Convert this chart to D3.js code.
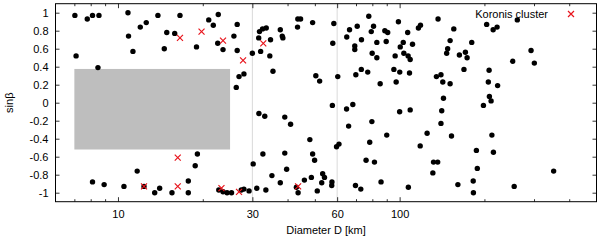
<!DOCTYPE html>
<html><head><meta charset="utf-8">
<script src="https://cdn.jsdelivr.net/npm/d3@7"></script>
<style>body{margin:0;background:#fff}svg{display:block}text{font-family:"Liberation Sans",Arial,sans-serif}</style>
</head><body><svg id="c" width="600" height="240"></svg>
<script>
// Asteroid diameters (km) and sin(beta) of pole latitude
const asteroidDiameter = [
  7.03, 7.78, 8.12, 8.56, 10.85, 13.86, 16.6, 21.0, 22.7, 21.8, 26.5, 12.6, 12.0, 10.9, 14.9, 15.9, 25.8, 7.10, 11.3, 14.6, 19.0, 22.6, 23.6, 26.5, 8.49, 26.9, 28.0, 26.3,
  30.0, 32.1, 31.6, 31.8, 32.6, 33.6, 34.8, 34.6, 35.5, 37.7, 38.3, 38.5, 43.5, 44.5, 43.4, 49.1, 58.4, 57.9, 50.4, 52.0, 60.3, 64.9, 66.4, 70.7, 73.2, 69.3, 69.3, 77.7, 80.8, 79.3, 83.0, 79.9, 83.0, 88.6, 90.7, 89.6, 99.0, 106.8, 103.0, 100.5, 111.1, 116.6, 118.6, 96.4, 103.5, 107.2, 109.0, 73.1, 77.05, 69.9, 85.3, 95.4, 100.1, 108.4, 97.2,
  136.9, 155.7, 151.1, 148.1, 146.9, 163.0, 171.2, 173.6, 180.3, 169.2, 135.1, 140.2, 142.3, 151.1, 143.1, 203.7, 214.8, 221.8, 261.7, 207.8, 206.5, 222.8, 208.3, 211.2, 198.4, 252.0, 292.8, 300.8,
  141.1, 140.2, 125.2, 152.8, 118.3, 212.6, 187.3, 215.3, 131.9, 136.5, 131.2, 188.7, 352.2, 182.5, 161.0, 255.1, 182.8, 100, 109.0, 107.4,
  57.7, 68.2, 64.8, 31.65, 33.2, 39.1, 41.0, 65.9, 79.7, 90.0, 48.0, 78.3, 60.9, 59.7, 32.7, 39.1, 49.1, 49.9, 76.0, 81.4, 30.2, 39.7, 53.3, 54.1, 35.2, 48.6, 45.9, 37.7, 52.9, 57.5, 57.4, 85.9, 69.7, 72.8, 31.1, 33.5, 43.0, 43.6, 51.0, 29.2, 27.4, 28.0,
  8.12, 8.93, 10.5, 11.7, 12.37, 13.5, 14.06, 15.55, 17.77, 17.77, 18.8, 19.14, 22.8, 23.6, 24.4, 25.3
];
const asteroidSinBeta = [
  0.97, 0.93, 0.97, 0.97, 1.00, 0.97, 0.97, 0.92, 0.98, 0.86, 0.87, 0.89, 0.84, 0.74, 0.78, 0.77, 0.74, 0.52, 0.57, 0.60, 0.62, 0.66, 0.59, 0.58, 0.39, 0.29, 0.32, 0.17,
  0.55, 0.57, 0.72, 0.79, 0.82, 0.83, 0.70, 0.52, 0.35, 0.81, 0.74, 0.72, 0.93, 0.93, 0.84, 0.89, 0.88, 0.66, 0.30, 0.24, 0.29, 0.73, 0.81, 0.85, 0.70, 0.63, 0.59, 0.96, 0.85, 0.79, 0.67, 0.55, 0.50, 0.80, 0.78, 0.68, 0.90, 0.78, 0.67, 0.62, 0.65, 0.83, 0.86, 0.52, 0.55, 0.52, 0.48, 0.37, 0.34, 0.31, 0.21, 0.37, 0.34, 0.33, 0.23,
  0.93, 0.82, 0.69, 0.60, 0.55, 0.53, 0.56, 0.50, 0.67, 0.37, 0.29, 0.31, 0.23, 0.21, 0.05, 0.87, 0.81, 0.84, 0.92, 0.36, 0.23, 0.19, 0.07, 0.02, -0.03, 0.46, 0.58, 0.44,
  -0.09, -0.23, -0.34, -0.37, -0.48, -0.36, -0.53, -0.55, -0.66, -0.66, -0.78, -0.73, -0.76, -0.87, -0.91, -0.93, -1.00, -0.10, -0.08, -0.94,
  -0.03, -0.02, -0.07, -0.12, -0.15, -0.16, -0.24, -0.26, -0.21, -0.36, -0.41, -0.44, -0.46, -0.49, -0.57, -0.56, -0.57, -0.64, -0.64, -0.66, -0.68, -0.74, -0.79, -0.83, -0.81, -0.83, -0.86, -0.89, -0.89, -0.88, -0.92, -0.88, -0.92, -0.96, -0.95, -0.97, -0.94, -1.00, -0.98, -0.98, -0.97, -0.96,
  -0.88, -0.91, -0.93, -0.76, -0.93, -1.00, -0.95, -1.00, -0.87, -1.00, -0.70, -0.57, -0.97, -0.99, -1.00, -1.00
];
const koronisDiameter = [16.6, 19.8, 23.6, 27.8, 32.8, 16.3, 12.37, 16.3, 23.3, 26.9, 43.6];
const koronisSinBeta  = [0.72, 0.79, 0.69, 0.47, 0.66, -0.61, -0.93, -0.93, -0.95, -0.99, -0.93];

const xTickValues = [10, 30, 60, 100];
const xMinorTickValues = [7, 8, 9, 20, 40, 50, 70, 80, 90, 200, 300, 400];
const yTickValues = [-1, -0.8, -0.6, -0.4, -0.2, 0, 0.2, 0.4, 0.6, 0.8, 1];
const gridDiameters = [30, 60];
const excludedDiameter = [7, 25];
const excludedSinBeta = [-0.52, 0.375];
const legendLabel = "Koronis cluster";

const svg = d3.select("#c");
const L = 55.5, R = 596.5, T = 3.7, B = 201.7;
const x = d3.scaleLog().domain([6, 500]).range([L, R]);
const y = d3.scaleLinear().domain([-1.1, 1.1]).range([B, T]);

svg.append("rect").attr("width", 600).attr("height", 240).attr("fill", "#fff");

// grid lines
svg.append("g").selectAll("line").data(gridDiameters).join("line")
  .attr("x1", d => x(d)).attr("x2", d => x(d)).attr("y1", T).attr("y2", B)
  .attr("stroke", "#cfcfcf").attr("stroke-width", 0.8);

// excluded region
svg.append("rect")
  .attr("x", x(excludedDiameter[0])).attr("width", x(excludedDiameter[1]) - x(excludedDiameter[0]))
  .attr("y", y(excludedSinBeta[1])).attr("height", y(excludedSinBeta[0]) - y(excludedSinBeta[1]))
  .attr("fill", "#bebebe");

// dots
const dots = asteroidDiameter.map((d, i) => ({d, s: asteroidSinBeta[i]}));
svg.append("g").selectAll("circle").data(dots).join("circle")
  .attr("cx", p => x(p.d)).attr("cy", p => y(p.s)).attr("r", 2.7).attr("fill", "#000");

// Koronis crosses
const cross = "M-3,-3L3,3M-3,3L3,-3";
const kor = koronisDiameter.map((d, i) => ({d, s: koronisSinBeta[i]}));
svg.append("g").selectAll("path").data(kor).join("path")
  .attr("d", cross).attr("transform", p => `translate(${x(p.d)},${y(p.s)})`)
  .attr("stroke", "#e8141c").attr("stroke-width", 1.2).attr("fill", "none");

// axes
const fmtY = d => String(+d.toFixed(1));
const gx = svg.append("g").attr("transform", `translate(0,${B})`)
  .call(d3.axisBottom(x).tickValues(xTickValues).tickSize(-4.5).tickPadding(9).tickFormat(d3.format("d")));
const gxm = svg.append("g").attr("transform", `translate(0,${B})`)
  .call(d3.axisBottom(x).tickValues(xMinorTickValues).tickSize(-2.5).tickFormat(""));
const gxt = svg.append("g").attr("transform", `translate(0,${T})`)
  .call(d3.axisTop(x).tickValues(xTickValues).tickSize(-4.5).tickFormat(""));
const gxtm = svg.append("g").attr("transform", `translate(0,${T})`)
  .call(d3.axisTop(x).tickValues(xMinorTickValues).tickSize(-2.5).tickFormat(""));
const gy = svg.append("g").attr("transform", `translate(${L},0)`)
  .call(d3.axisLeft(y).tickValues(yTickValues).tickSize(-4).tickPadding(7).tickFormat(fmtY));
const gyr = svg.append("g").attr("transform", `translate(${R},0)`)
  .call(d3.axisRight(y).tickValues(yTickValues).tickSize(-4).tickFormat(""));
[gx, gxm, gxt, gxtm, gy, gyr].forEach(g => {
  g.select(".domain").remove();
  g.selectAll("line").attr("stroke", "#000").attr("stroke-width", 0.8);
  g.selectAll("text").attr("font-size", 11).attr("font-family", '"Liberation Sans", Arial, sans-serif').attr("fill", "#000");
});

// border
svg.append("rect").attr("x", L).attr("y", T).attr("width", R - L).attr("height", B - T)
  .attr("fill", "none").attr("stroke", "#000").attr("stroke-width", 1);

// axis titles
svg.append("text").attr("x", (L + R) / 2).attr("y", 234).attr("text-anchor", "middle")
  .attr("font-size", 11).text("Diameter D [km]");
svg.append("text").attr("transform", `translate(13,${(T + B) / 2}) rotate(-90)`)
  .attr("text-anchor", "middle").attr("font-size", 11).text("sinβ");

// legend
svg.append("text").attr("x", 548).attr("y", 18).attr("text-anchor", "end")
  .attr("font-size", 11).text(legendLabel);
svg.append("path").attr("d", cross).attr("transform", "translate(571,14)")
  .attr("stroke", "#e8141c").attr("stroke-width", 1.2).attr("fill", "none");
</script></body></html>
